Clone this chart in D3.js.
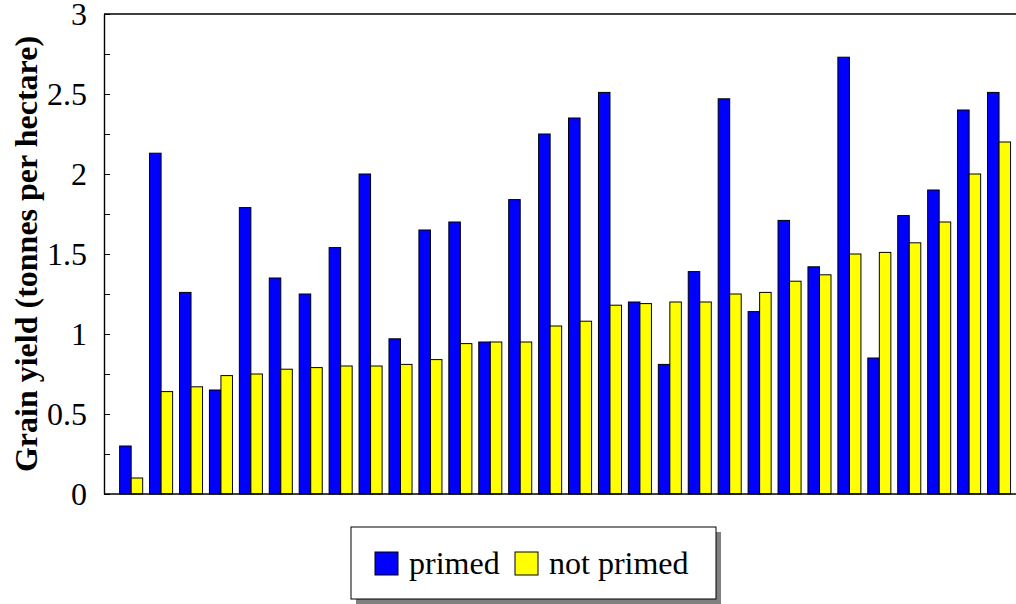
<!DOCTYPE html>
<html>
<head>
<meta charset="utf-8">
<script src="https://cdn.jsdelivr.net/npm/d3@7"></script>
<style>
  body { margin: 0; background: #fff; }
  text { font-family: "Liberation Serif", "Times New Roman", serif; }
</style>
</head>
<body>
<div id="chart"></div>
<script>
// chart data
var sites = d3.range(1, 31).map(String);
var seriesNames = ["primed", "not primed"];
var seriesColors = ["#0000ff", "#ffff00"];
var primed = [0.30, 2.13, 1.26, 0.65, 1.79, 1.35, 1.25, 1.54, 2.00, 0.97,
              1.65, 1.70, 0.95, 1.84, 2.25, 2.35, 2.51, 1.20, 0.81, 1.39,
              2.47, 1.14, 1.71, 1.42, 2.73, 0.85, 1.74, 1.90, 2.40, 2.51];
var notPrimed = [0.10, 0.64, 0.67, 0.74, 0.75, 0.78, 0.79, 0.80, 0.80, 0.81,
                 0.84, 0.94, 0.95, 0.95, 1.05, 1.08, 1.18, 1.19, 1.20, 1.20,
                 1.25, 1.26, 1.33, 1.37, 1.50, 1.51, 1.57, 1.70, 2.00, 2.20];
var yTicks = [0, 0.25, 0.5, 0.75, 1, 1.25, 1.5, 1.75, 2, 2.25, 2.5, 2.75, 3];
var yLabel = "Grain yield (tonnes per hectare)";

// svg area
var svgWidth = 1016;
var svgHeight = 604;
var plotLeft = 104, plotRight = 1016, plotTop = 14, plotBottom = 494;

var svg = d3.select("#chart")
  .append("svg")
  .attr("width", svgWidth)
  .attr("height", svgHeight);

// build rows from the arrays
var rows = sites.map(function(s, i) {
  return { site: s, values: [primed[i], notPrimed[i]] };
});

// scales
var x0 = d3.scaleBand()
  .domain(sites)
  .range([116.2, 1014])
  .paddingInner(0.23)
  .paddingOuter(0.115);

var x1 = d3.scaleBand()
  .domain(seriesNames)
  .range([0, x0.bandwidth()]);

var y = d3.scaleLinear()
  .domain([0, 3])
  .range([plotBottom, plotTop]);

// bars
var groups = svg.append("g")
  .selectAll("g")
  .data(rows)
  .enter()
  .append("g")
  .attr("transform", d => `translate(${x0(d.site)},0)`);

groups.selectAll("rect")
  .data(d => d.values.map((v, j) => ({ key: seriesNames[j], value: v, color: seriesColors[j] })))
  .enter()
  .append("rect")
  .attr("x", d => x1(d.key))
  .attr("y", d => y(d.value))
  .attr("width", x1.bandwidth())
  .attr("height", d => plotBottom - y(d.value))
  .attr("fill", d => d.color)
  .attr("stroke", "#000")
  .attr("stroke-width", 1);

// top and bottom frame lines
svg.append("line")
  .attr("x1", plotLeft).attr("x2", plotRight)
  .attr("y1", plotTop).attr("y2", plotTop)
  .attr("stroke", "#000").attr("stroke-width", 1.4);

svg.append("line")
  .attr("x1", plotLeft).attr("x2", plotRight)
  .attr("y1", plotBottom).attr("y2", plotBottom)
  .attr("stroke", "#000").attr("stroke-width", 1.4);

// y axis, ticks pointing inward
var leftAxis = d3.axisLeft(y)
  .tickValues(yTicks)
  .tickSizeInner(-6)
  .tickSizeOuter(0)
  .tickPadding(17)
  .tickFormat(d => (d * 2) % 1 === 0 ? d3.format("")(d) : "");

var yAxis = svg.append("g")
  .attr("transform", `translate(${plotLeft},0)`)
  .call(leftAxis);

yAxis.select(".domain").attr("stroke", "#000").attr("stroke-width", 1.4);
yAxis.selectAll("line").attr("stroke", "#000");
yAxis.selectAll("text")
  .attr("font-family", "Liberation Serif, serif")
  .attr("font-size", 32)
  .attr("fill", "#000");

// y axis title
svg.append("text")
  .attr("transform", `translate(37, 254) rotate(-90)`)
  .attr("text-anchor", "middle")
  .attr("font-size", 32)
  .attr("font-weight", "bold")
  .text(yLabel);

// legend with drop shadow
var legend = svg.append("g").attr("transform", "translate(351, 527)");

legend.append("rect")
  .attr("x", 5).attr("y", 5)
  .attr("width", 365).attr("height", 72)
  .attr("fill", "#808080");

legend.append("rect")
  .attr("width", 365).attr("height", 72)
  .attr("fill", "#fff")
  .attr("stroke", "#000")
  .attr("stroke-width", 1);

var legendX = [24, 164];
seriesNames.forEach(function(name, j) {
  legend.append("rect")
    .attr("x", legendX[j]).attr("y", 25)
    .attr("width", 23).attr("height", 23)
    .attr("fill", seriesColors[j])
    .attr("stroke", "#000");
  legend.append("text")
    .attr("x", legendX[j] + 34)
    .attr("y", 47)
    .attr("font-size", 32)
    .text(name);
});
</script>
</body>
</html>
